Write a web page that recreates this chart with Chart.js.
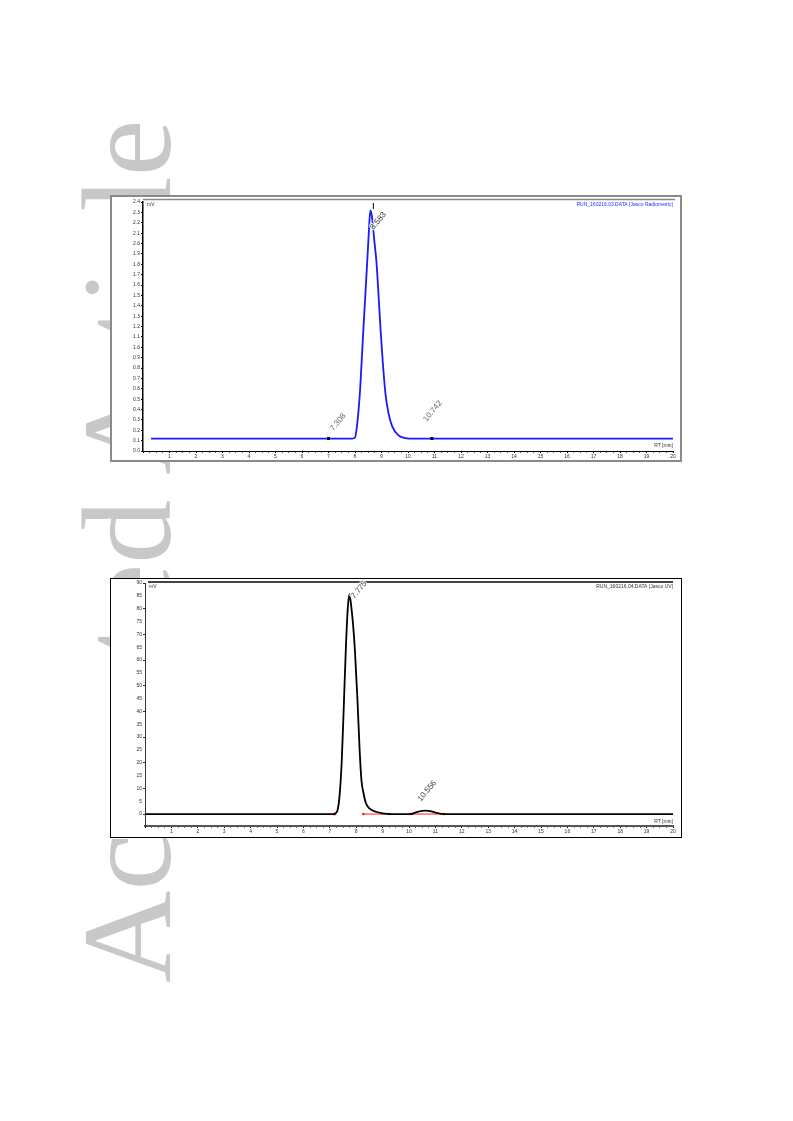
<!DOCTYPE html>
<html>
<head>
<meta charset="utf-8">
<script src="https://cdn.jsdelivr.net/npm/chart.js@4"></script>
<style>
body{margin:0;background:#fff;width:793px;height:1121px;position:relative;overflow:hidden;font-family:"Liberation Sans",Arial,sans-serif}
#wm{position:absolute;left:63px;top:983px;transform-origin:0 0;transform:rotate(-90deg);font:128px/128px "Liberation Serif",serif;color:#c8c8c8;white-space:nowrap}
.box{position:absolute;background:#fff}
#box1{left:110px;top:195px;width:568px;height:263px;border:2px solid #8a8a8a}
#box2{left:110px;top:578px;width:570px;height:258px;border:1px solid #000}
canvas{display:block}
</style>
</head>
<body>
<div id="wm">Accepted Article</div>
<div class="box" id="box1"><canvas id="radioChart" width="568" height="263"></canvas></div>
<div class="box" id="box2"><canvas id="uvChart" width="570" height="258"></canvas></div>
<script>
// radiometric trace (top), retention time in min, signal in mV
const rt1 = [0.3, 7.9, 8.0, 8.1, 8.2, 8.3, 8.4, 8.46, 8.52, 8.58, 8.64, 8.72, 8.81, 8.9, 8.97, 9.05, 9.15, 9.26, 9.4, 9.64, 9.9, 10.2, 20];
const mv1 = [0.12, 0.12, 0.13, 0.3, 0.62, 1.1, 1.55, 1.82, 2.1, 2.32, 2.26, 2.05, 1.82, 1.45, 1.15, 0.85, 0.55, 0.37, 0.24, 0.15, 0.125, 0.12, 0.12];
const peakNames1 = ['7.308', '8.583', '10.742'];
const peakLabelX1 = [7.18, 8.7, 10.7];
const peakLabelY1 = [0.19, 2.13, 0.28];
const marks1 = [7.0, 10.9];
const yTicks1Max = 2.4;

// UV trace (bottom)
const rt2 = [0, 7.17, 7.25, 7.3, 7.36, 7.45, 7.53, 7.61, 7.68, 7.74, 7.8, 7.88, 7.95, 8.05, 8.13, 8.2, 8.28, 8.37, 8.5, 8.75, 9.0, 9.3, 10.07, 10.3, 10.5, 10.64, 10.8, 11.0, 11.33, 20];
const uv2 = [0, 0, 0.6, 1.8, 6, 20, 42, 65, 80, 85.7, 82, 74, 64, 44, 25, 13, 8, 4.2, 2.2, 0.9, 0.3, 0, 0, 0.8, 1.2, 1.3, 1.1, 0.6, 0, 0];
const redBase1 = [8.27, 9.25];
const redBase2 = [10.07, 11.33];
const peakStart2 = [7.17];
const peakNames2 = ['7.775', '10.556'];
const peakLabelX2 = [7.93, 10.45];
const peakLabelY2 = [83.8, 4.8];
const yTicks2 = [0, 5, 10, 15, 20, 25, 30, 35, 40, 45, 50, 55, 60, 65, 70, 75, 80, 85, 90];

const tickFont = {size: 5, family: '"Liberation Sans", Arial'};
const xLabel = v => (Number.isInteger(v) && v > 0) ? String(v) : '';

function rotText(ctx, txt, px, py, color) {
  ctx.save();
  ctx.translate(px, py);
  ctx.rotate(-50 * Math.PI / 180);
  ctx.font = '8px "Liberation Sans", Arial';
  ctx.lineWidth = 2;
  ctx.strokeStyle = 'rgba(255,255,255,0.9)';
  ctx.strokeText(txt, 0, 0);
  ctx.fillStyle = color;
  ctx.fillText(txt, 0, 0);
  ctx.restore();
}

const extras1 = {
  id: 'extras1',
  afterDatasetsDraw(chart) {
    const {ctx, chartArea: a, scales: {x, y}} = chart;
    ctx.save();
    ctx.strokeStyle = '#888'; ctx.lineWidth = 1.5;
    ctx.beginPath(); ctx.moveTo(a.left, a.top - 2.5); ctx.lineTo(a.right + 2, a.top - 2.5); ctx.stroke();
    ctx.font = '5px "Liberation Sans", Arial';
    ctx.textBaseline = 'top';
    ctx.fillStyle = '#333';
    ctx.fillText('mV', a.left + 4, a.top);
    ctx.textAlign = 'right';
    ctx.fillStyle = '#2a2aff';
    ctx.fillText('RUN_160216.03.DATA [Jasco Radiometric]', a.right, a.top);
    ctx.fillStyle = '#333';
    ctx.textBaseline = 'alphabetic';
    ctx.fillText('RT [min]', a.right, a.bottom - 4);
    ctx.fillStyle = '#000';
    marks1.forEach(t => ctx.fillRect(x.getPixelForValue(t) - 1.5, y.getPixelForValue(mv1[0]) - 1.5, 3, 3));
    const apex = rt1[mv1.indexOf(Math.max(...mv1))];
    ctx.strokeStyle = '#000'; ctx.lineWidth = 1;
    ctx.beginPath();
    ctx.moveTo(x.getPixelForValue(apex) + 3, y.getPixelForValue(yTicks1Max) + 1);
    ctx.lineTo(x.getPixelForValue(apex) + 3, y.getPixelForValue(yTicks1Max) + 7);
    ctx.stroke();
    ctx.restore();
    peakNames1.forEach((n, i) => rotText(ctx, n, x.getPixelForValue(peakLabelX1[i]), y.getPixelForValue(peakLabelY1[i]), i === 1 ? '#333' : '#666'));
  }
};

const extras2 = {
  id: 'extras2',
  afterDatasetsDraw(chart) {
    const {ctx, chartArea: a, scales: {x, y}} = chart;
    ctx.save();
    ctx.strokeStyle = '#444'; ctx.lineWidth = 2;
    ctx.beginPath(); ctx.moveTo(a.left + 3, a.top - 1); ctx.lineTo(a.right, a.top - 1); ctx.stroke();
    ctx.font = '5px "Liberation Sans", Arial';
    ctx.textBaseline = 'top';
    ctx.fillStyle = '#333';
    ctx.fillText('mV', a.left + 4, a.top + 1);
    ctx.textAlign = 'right';
    ctx.fillText('RUN_160216.04.DATA [Jasco UV]', a.right, a.top + 1);
    ctx.textBaseline = 'alphabetic';
    ctx.fillText('RT [min]', a.right, a.bottom - 3);
    ctx.restore();
    peakNames2.forEach((n, i) => rotText(ctx, n, x.getPixelForValue(peakLabelX2[i]), y.getPixelForValue(peakLabelY2[i]), '#444'));
  }
};

new Chart(document.getElementById('radioChart'), {
  type: 'line',
  data: {
    datasets: [{
      data: rt1.map((t, i) => ({x: t, y: mv1[i]})),
      borderColor: '#1a1aff', borderWidth: 1.8, pointRadius: 0,
      cubicInterpolationMode: 'monotone'
    }]
  },
  options: {
    responsive: false, animation: false,
    layout: {padding: {top: 5, right: 7, left: 0, bottom: 0}},
    plugins: {legend: {display: false}, tooltip: {enabled: false}},
    scales: {
      x: {
        type: 'linear', min: 0, max: 20,
        afterFit: s => { s.height = 9; },
        border: {color: '#000', width: 1},
        grid: {drawOnChartArea: false, tickLength: 2, tickColor: c => Number.isInteger(c.tick.value) ? '#000' : '#666'},
        ticks: {stepSize: 0.25, autoSkip: false, maxRotation: 0, padding: 1, color: '#333', font: tickFont, callback: xLabel}
      },
      y: {
        min: 0, max: yTicks1Max,
        afterFit: s => { s.width = 31; },
        border: {color: '#000', width: 1.5},
        grid: {drawOnChartArea: false, tickLength: 2, tickColor: '#000'},
        ticks: {stepSize: 0.1, autoSkip: false, padding: 1, color: '#333', font: tickFont, callback: v => v.toFixed(1)}
      }
    }
  },
  plugins: [extras1]
});

new Chart(document.getElementById('uvChart'), {
  type: 'line',
  data: {
    datasets: [
      {
        data: rt2.map((t, i) => ({x: t, y: uv2[i]})),
        borderColor: '#000', borderWidth: 1.8, pointRadius: 0,
        cubicInterpolationMode: 'monotone'
      },
      {data: redBase1.map(t => ({x: t, y: 0})), borderColor: '#ff2020', borderWidth: 1, pointRadius: 1.3, pointBackgroundColor: '#ff2020', pointBorderWidth: 0},
      {data: redBase2.map(t => ({x: t, y: 0})), borderColor: '#ff2020', borderWidth: 1, pointRadius: 1.3, pointBackgroundColor: '#ff2020', pointBorderWidth: 0},
      {data: peakStart2.map(t => ({x: t, y: 0})), showLine: false, pointRadius: 1.5, pointBackgroundColor: '#ff2020', pointBorderWidth: 0}
    ]
  },
  options: {
    responsive: false, animation: false,
    layout: {padding: {top: 3, right: 8, left: 0, bottom: 0}},
    plugins: {legend: {display: false}, tooltip: {enabled: false}},
    scales: {
      x: {
        type: 'linear', min: 0, max: 20,
        afterFit: s => { s.height = 11; },
        border: {color: '#555', width: 2},
        grid: {drawOnChartArea: false, tickLength: 2, tickColor: c => Number.isInteger(c.tick.value) ? '#000' : '#777'},
        ticks: {stepSize: 0.25, autoSkip: false, maxRotation: 0, padding: 1, color: '#333', font: tickFont, callback: xLabel}
      },
      y: {
        min: -4.65, max: 90,
        afterFit: s => { s.width = 34; },
        afterBuildTicks: s => { s.ticks = yTicks2.map(v => ({value: v})); },
        border: {color: '#333', width: 1, dash: [1, 2]},
        grid: {drawOnChartArea: false, tickLength: 2, tickColor: c => c.tick.value % 10 === 0 ? '#333' : 'rgba(0,0,0,0)'},
        ticks: {autoSkip: false, padding: 1, color: '#333', font: tickFont}
      }
    }
  },
  plugins: [extras2]
});
</script>
</body>
</html>
